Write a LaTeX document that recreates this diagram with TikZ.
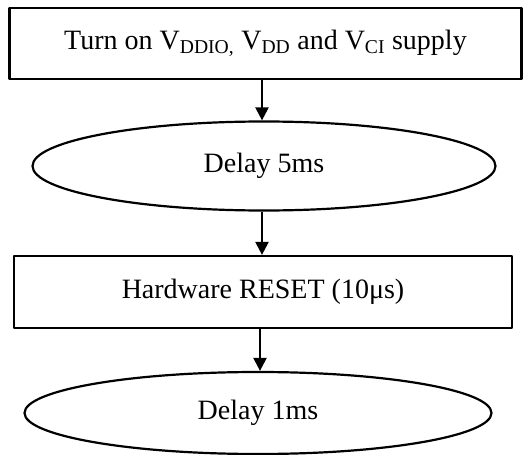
\documentclass[tikz,border=0pt]{standalone}
\usepackage{fontspec}
\setmainfont{Liberation Serif}
\usetikzlibrary{shapes.geometric,arrows.meta}
\begin{document}
\begin{tikzpicture}[x=1pt,y=-1pt,line join=round,
	hop/.style={draw,line width=2.2pt,rectangle,inner sep=0pt},
	bau/.style={draw,line width=2.2pt,ellipse,inner sep=0pt},
	muiten/.style={line width=2.2pt,-{Triangle[length=13pt,width=13pt]}}]
		\useasboundingbox (0,0) rectangle (523,455);
		%==Phần thông số có thể tùy chỉnh
		\def\co{\fontsize{28}{32}\selectfont}
		%==============
		\node[hop,minimum width=512,minimum height=71] (B1) at (265.5,43.5)
		{\raisebox{3pt}{\co Turn on V\textsubscript{DDIO,} V\textsubscript{DD} and V\textsubscript{CI} supply}};
		\node[bau,minimum width=463,minimum height=89] (E1) at (264,166) {\co Delay 5ms};
		\node[hop,minimum width=498,minimum height=72] (B2) at (263,292) {\raisebox{3pt}{\co Hardware RESET (10μs)}};
		\node[bau,minimum width=467,minimum height=82] (E2) at (258,413) {\co Delay 1ms};
		\draw[muiten] (B1.south-|262,0)--(E1.north-|262,0);
		\draw[muiten] (E1.south-|262,0)--(B2.north-|262,0);
		\draw[muiten] (B2.south-|260,0)--(E2.north-|260,0);
		\end{tikzpicture}
\end{document}
